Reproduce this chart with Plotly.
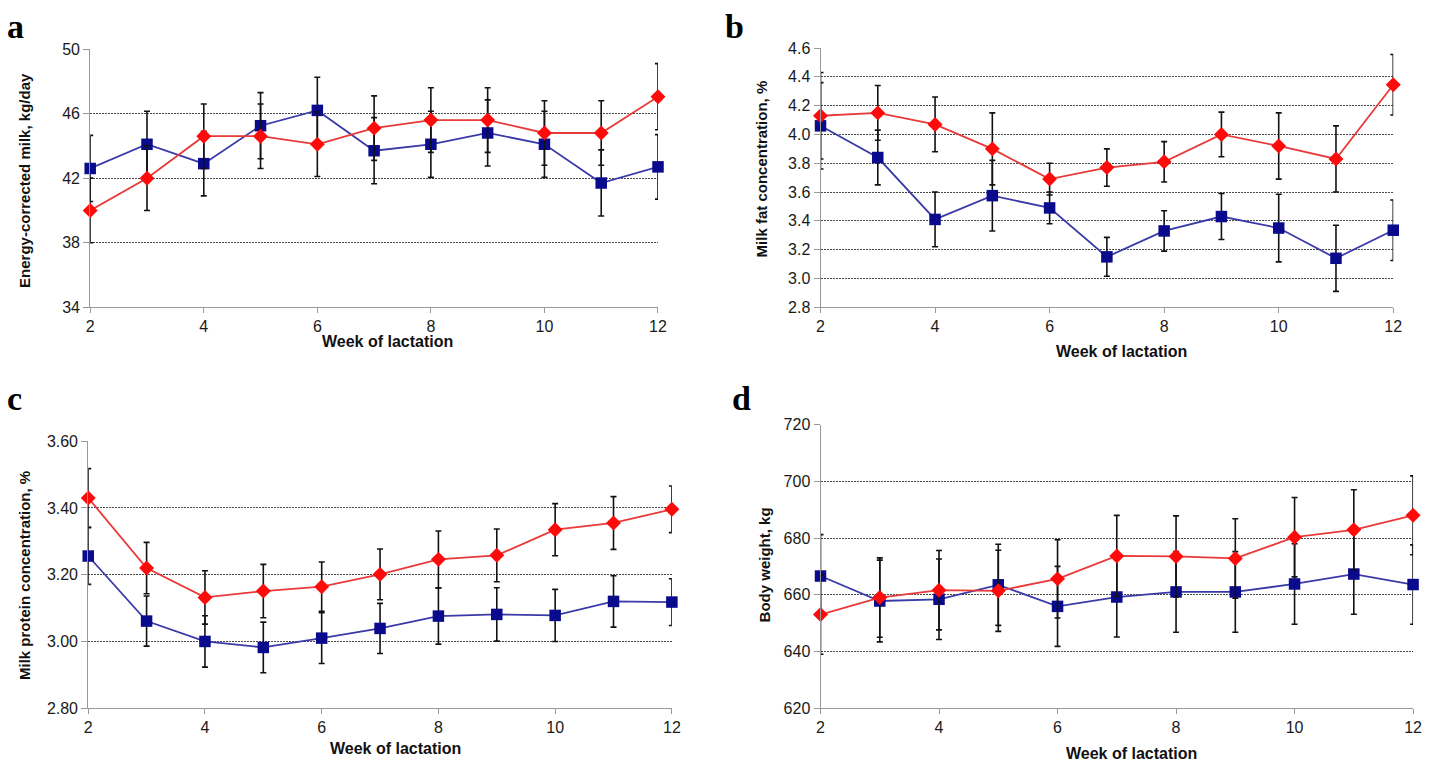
import plotly.graph_objects as go

weeks = [2, 3, 4, 5, 6, 7, 8, 9, 10, 11, 12]

# Panel a: energy-corrected milk, kg/day
a_red = [40.0, 42.0, 44.6, 44.6, 44.1, 45.1, 45.6, 45.6, 44.8, 44.8, 47.05]
a_red_err = [2.0, 2.0, 2.0, 2.0, 2.0, 2.0, 2.0, 2.0, 2.0, 2.0, 2.05]
a_blue = [42.6, 44.1, 42.9, 45.25, 46.2, 43.7, 44.1, 44.8, 44.1, 41.7, 42.7]
a_blue_err = [2.05, 2.05, 2.0, 2.05, 2.05, 2.05, 2.05, 2.05, 2.05, 2.05, 2.0]

# Panel b: milk fat concentration, %
b_red = [4.13, 4.15, 4.07, 3.90, 3.69, 3.77, 3.81, 4.00, 3.92, 3.83, 4.345]
b_red_err = [0.30, 0.19, 0.19, 0.25, 0.11, 0.13, 0.14, 0.155, 0.23, 0.23, 0.21]
b_blue = [4.06, 3.84, 3.41, 3.575, 3.49, 3.15, 3.33, 3.43, 3.35, 3.14, 3.335]
b_blue_err = [0.30, 0.19, 0.19, 0.245, 0.11, 0.135, 0.14, 0.16, 0.235, 0.23, 0.21]

# Panel c: milk protein concentration, %
c_red = [3.43, 3.22, 3.132, 3.151, 3.164, 3.201, 3.246, 3.258, 3.335, 3.355, 3.396]
c_red_err = [0.088, 0.077, 0.08, 0.08, 0.074, 0.076, 0.085, 0.079, 0.078, 0.079, 0.07]
c_blue = [3.256, 3.061, 3.0, 2.982, 3.01, 3.039, 3.076, 3.081, 3.078, 3.12, 3.118]
c_blue_err = [0.085, 0.075, 0.077, 0.076, 0.076, 0.075, 0.084, 0.08, 0.078, 0.077, 0.07]

# Panel d: body weight, kg
d_red = [653.0, 659.0, 661.6, 661.4, 665.6, 673.7, 673.5, 672.8, 680.3, 682.9, 688.0]
d_red_err = [14.0, 14.0, 14.0, 14.3, 13.8, 14.3, 14.3, 14.0, 14.0, 14.1, 13.9]
d_blue = [666.6, 657.8, 658.4, 663.5, 655.9, 659.2, 661.0, 661.0, 663.8, 667.3, 663.6]
d_blue_err = [14.6, 14.4, 14.2, 14.3, 14.1, 14.1, 14.2, 14.2, 14.2, 14.2, 14.0]

panel_letters = ["a", "b", "c", "d"]
y_titles = ["Energy-corrected milk, kg/day", "Milk fat concentration, %",
            "Milk protein concentration, %", "Body weight, kg"]
x_title = "Week of lactation"

W, H = 1430, 770

def px(x):
    return x / W

def py(y):
    return 1 - y / H

BLUE_M = "#0a0a8c"
BLUE_L = "#3a3aa8"
RED_M = "#ff0a0a"
RED_L = "#e83a3a"
FONT = "Liberation Sans, Arial, sans-serif"

panels = [
    dict(red=a_red, rerr=a_red_err, blue=a_blue, berr=a_blue_err,
         xd=[px(87), px(660)], yd=[py(306), py(42)], yr=[34, 50], dt=4, fmt=None),
    dict(red=b_red, rerr=b_red_err, blue=b_blue, berr=b_blue_err,
         xd=[px(824), px(1402)], yd=[py(306), py(41)], yr=[2.8, 4.6], dt=0.2, fmt=".1f"),
    dict(red=c_red, rerr=c_red_err, blue=c_blue, berr=c_blue_err,
         xd=[px(85), px(674)], yd=[py(716), py(443)], yr=[2.8, 3.6], dt=0.2, fmt=".2f"),
    dict(red=d_red, rerr=d_red_err, blue=d_blue, berr=d_blue_err,
         xd=[px(824), px(1422)], yd=[py(716), py(426)], yr=[620, 720], dt=20, fmt=None),
]

fig = go.Figure()
layout = {}
for i, p in enumerate(panels):
    n = "" if i == 0 else str(i + 1)
    xa, ya = "x" + n, "y" + n
    eb = dict(type="data", symmetric=True, color="#111111", thickness=1.6, width=3)
    fig.add_trace(go.Scatter(
        x=weeks, y=p["blue"], xaxis=xa, yaxis=ya, mode="lines+markers",
        line=dict(color=BLUE_L, width=1.8),
        marker=dict(symbol="square", size=11.5, color=BLUE_M),
        error_y=dict(array=p["berr"], **eb), cliponaxis=False, showlegend=False))
    fig.add_trace(go.Scatter(
        x=weeks, y=p["red"], xaxis=xa, yaxis=ya, mode="lines+markers",
        line=dict(color=RED_L, width=1.8),
        marker=dict(symbol="diamond", size=11.5, color=RED_M),
        error_y=dict(array=p["rerr"], **eb), cliponaxis=False, showlegend=False))
    layout["xaxis" + n] = dict(
        domain=p["xd"], anchor=ya, range=[2, 12], dtick=2, tick0=2,
        showline=True, linecolor="#999999", linewidth=1,
        ticks="outside", ticklen=5, tickcolor="#999999",
        showgrid=False, zeroline=False,
        tickfont=dict(family=FONT, size=16, color="#1a1a1a"))
    ya_d = dict(
        domain=p["yd"], anchor=xa, range=p["yr"], dtick=p["dt"], tick0=p["yr"][0],
        showline=True, linecolor="#999999", linewidth=1,
        ticks="outside", ticklen=6, tickcolor="#999999",
        showgrid=True, gridcolor="#4a4a4a", gridwidth=1, griddash="2px,1px",
        zeroline=False, tickfont=dict(family=FONT, size=16, color="#1a1a1a"))
    if p["fmt"]:
        ya_d["tickformat"] = p["fmt"]
    layout["yaxis" + n] = ya_d

annotations = []
# panel letters
for lt, (x, y) in zip(panel_letters, [(1, -2), (726, -2), (1, 378), (733, 378)]):
    annotations.append(dict(text="<b>%s</b>" % lt, x=px(x), y=py(y), xref="paper", yref="paper",
                            xanchor="left", yanchor="top", showarrow=False,
                            font=dict(family="Liberation Serif, Times New Roman, serif", size=34, color="#000")))
# x titles
for (x, y) in [(387, 341), (1128, 351), (395, 757), (1138, 762)]:
    annotations.append(dict(text="<b>%s</b>" % x_title, x=px(x), y=py(y), xref="paper", yref="paper",
                            xanchor="center", yanchor="middle", showarrow=False,
                            font=dict(family=FONT, size=16, color="#111")))
# y titles
for t, (x, y) in zip(y_titles, [(20, 176), (764, 165), (20, 580), (767, 570)]):
    annotations.append(dict(text="<b>%s</b>" % t, x=px(x), y=py(y), xref="paper", yref="paper",
                            xanchor="center", yanchor="middle", textangle=-90, showarrow=False,
                            font=dict(family=FONT, size=15, color="#111")))

fig.update_layout(
    width=W, height=H, margin=dict(l=0, r=0, t=0, b=0),
    paper_bgcolor="white", plot_bgcolor="white",
    annotations=annotations, **layout)

fig.write_html("out.html", config={"displayModeBar": False},
               post_script="document.body.style.margin='0';document.body.style.overflow='hidden';")
